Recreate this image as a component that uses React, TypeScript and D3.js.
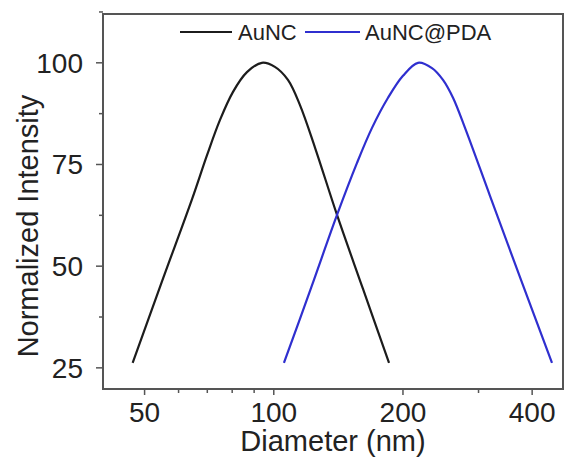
import React from "react";
import * as d3 from "d3";

const auncX = [46.9, 55, 64.5, 69.9, 74.9, 80.3, 86.6, 93.8, 100.6, 107.9, 115.1, 124.8, 140.4, 161.4, 185.6];
const auncY = [26.2, 46.5, 66.5, 77.3, 85.9, 92.8, 97.7, 100, 99.0, 95.8, 89.6, 79.1, 62.6, 44.4, 26.2];

const pdaX = [105.6, 122.1, 140.4, 156.3, 169.4, 184.6, 200.0, 216.8, 233.7, 247.9, 261.6, 279.0, 319.0, 374.7, 444.9];
const pdaY = [26.2, 44.6, 62.6, 75.4, 84.0, 91.4, 96.8, 100, 98.7, 95.8, 91.4, 84.0, 67.3, 47.3, 26.2];

const xMajor = [50, 100, 200, 400];
const xMinor = [60, 70, 80, 90, 300];
const yMajor = [25, 50, 75, 100];
const yMinor = [37.5, 62.5, 87.5, 112.5];

const seriesNames = ["AuNC", "AuNC@PDA"];
const seriesColors = ["#1c1c1c", "#2f2fcf"];

const W = 566, H = 459;
const L = 103, R = 563, T = 14, B = 389;
const FONT = "'Liberation Sans', Arial, sans-serif";

export default function App() {
  const x = d3.scaleLog().domain([40, 472]).range([L, R]);
  const y = d3.scaleLinear().domain([19.8, 112]).range([B, T]);
  const line = d3.line<[number, number]>()
    .x(d => x(d[0])).y(d => y(d[1]))
    .curve(d3.curveCatmullRom.alpha(0.5));
  const s1 = auncX.map((v, i) => [v, auncY[i]] as [number, number]);
  const s2 = pdaX.map((v, i) => [v, pdaY[i]] as [number, number]);
  const axisColor = "#555";
  return (
    <svg width={W} height={H} style={{ position: "absolute", left: 0, top: 0, background: "#fff" }} fontFamily={FONT}>
      <rect x={0} y={0} width={W} height={H} fill="#fff" />
      <path d={line(s1) || ""} fill="none" stroke={seriesColors[0]} strokeWidth={2.2} />
      <path d={line(s2) || ""} fill="none" stroke={seriesColors[1]} strokeWidth={2.2} />
      <rect x={L} y={T} width={R - L} height={B - T} fill="none" stroke={axisColor} strokeWidth={2} />
      {xMajor.map(v => (
        <g key={"xm" + v}>
          <line x1={x(v)} x2={x(v)} y1={B} y2={B + 6} stroke={axisColor} strokeWidth={1.5} />
          <text x={x(v)} y={B + 33} textAnchor="middle" fontSize={28} fill="#222">{v}</text>
        </g>
      ))}
      {xMinor.map(v => (
        <line key={"xn" + v} x1={x(v)} x2={x(v)} y1={B} y2={B + 4} stroke={axisColor} strokeWidth={1.5} />
      ))}
      {yMajor.map(v => (
        <g key={"ym" + v}>
          <line x1={L - 7} x2={L} y1={y(v)} y2={y(v)} stroke={axisColor} strokeWidth={1.5} />
          <text x={L - 20} y={y(v)} dy="0.35em" textAnchor="end" fontSize={28} fill="#222">{v}</text>
        </g>
      ))}
      {yMinor.map(v => (
        <line key={"yn" + v} x1={L - 4} x2={L} y1={y(v)} y2={y(v)} stroke={axisColor} strokeWidth={1.5} />
      ))}
      <text x={(L + R) / 2} y={451} textAnchor="middle" fontSize={29} fill="#222">Diameter (nm)</text>
      <text transform={`translate(38,226) rotate(-90)`} textAnchor="middle" fontSize={29} fill="#222">Normalized Intensity</text>
      <line x1={180} x2={232} y1={32} y2={32} stroke={seriesColors[0]} strokeWidth={2.2} />
      <text x={238} y={40} fontSize={22} fill="#222">{seriesNames[0]}</text>
      <line x1={305} x2={360} y1={32} y2={32} stroke={seriesColors[1]} strokeWidth={2.2} />
      <text x={365} y={40} fontSize={22} fill="#222">{seriesNames[1]}</text>
    </svg>
  );
}
